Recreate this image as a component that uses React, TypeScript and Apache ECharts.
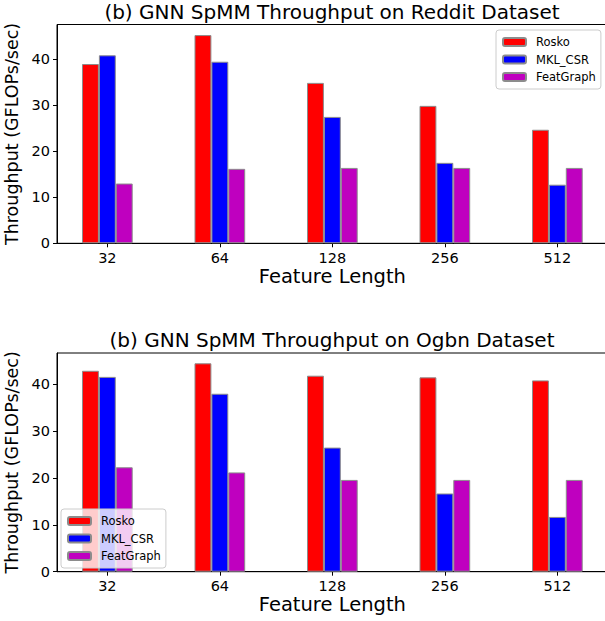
import React, { useEffect, useRef } from "react";
import * as echarts from "echarts";

const categories = ["32", "64", "128", "256", "512"];
const seriesNames = ["Rosko", "MKL_CSR", "FeatGraph"];
const seriesColors = ["#ff0000", "#0000ff", "#bf00bf"];

const redditRosko = [39.0, 45.3, 34.9, 29.9, 24.7];
const redditMkl = [40.9, 39.5, 27.5, 17.5, 12.75];
const redditFeat = [13.0, 16.2, 16.4, 16.4, 16.4];

const ogbnRosko = [42.9, 44.5, 41.85, 41.5, 40.85];
const ogbnMkl = [41.6, 38.0, 26.5, 16.7, 11.7];
const ogbnFeat = [22.3, 21.2, 19.6, 19.6, 19.6];

const yTicks = [0, 10, 20, 30, 40];
const titles = [
  "(b) GNN SpMM Throughput on Reddit Dataset",
  "(b) GNN SpMM Throughput on Ogbn Dataset",
];
const yMax = [47.6, 46.7];

const FONT = "DejaVu Sans";

export default function App() {
  const ref = useRef<HTMLDivElement>(null);
  useEffect(() => {
    if (!ref.current) return;
    const chart = echarts.init(ref.current, null, { renderer: "svg" });
    const xIdx = categories.map((_, i) => i);
    const grids = [
      { left: 57, top: 24.5, width: 550.7, height: 218.8 },
      { left: 57, top: 353, width: 550.7, height: 218.7 },
    ];
    const makeX = (g: number) => ({
      type: "value",
      gridIndex: g,
      min: -0.4475,
      max: 4.4475,
      splitLine: { show: false },
      axisLine: { show: true, onZero: false, lineStyle: { color: "#000", width: 1 } },
      axisTick: { show: true, customValues: xIdx, length: 4, lineStyle: { color: "#000" } },
      axisLabel: {
        customValues: xIdx,
        formatter: (v: number) => categories[Math.round(v)] ?? "",
        color: "#000",
        fontFamily: FONT,
        fontSize: 14.5,
        margin: 7,
      },
      name: "Feature Length",
      nameLocation: "middle",
      nameGap: 23,
      nameTextStyle: { color: "#000", fontFamily: FONT, fontSize: 19.5 },
    });
    const makeY = (g: number) => ({
      type: "value",
      gridIndex: g,
      min: 0,
      max: yMax[g],
      splitLine: { show: false },
      axisLine: { show: true, onZero: false, lineStyle: { color: "#000", width: 1 } },
      axisTick: { show: true, customValues: yTicks, length: 4, lineStyle: { color: "#000" } },
      axisLabel: {
        customValues: yTicks,
        color: "#000",
        fontFamily: FONT,
        fontSize: 14.5,
        margin: 7,
      },
      name: "Throughput (GFLOPs/sec)",
      nameLocation: "middle",
      nameGap: 27,
      nameTextStyle: { color: "#000", fontFamily: FONT, fontSize: 17.5 },
    });
    const dataSets = [
      [redditRosko, redditMkl, redditFeat],
      [ogbnRosko, ogbnMkl, ogbnFeat],
    ];
    const series: any[] = [];
    dataSets.forEach((set, g) => {
      set.forEach((vals, s) => {
        series.push({
          type: "bar",
          name: seriesNames[s],
          xAxisIndex: g,
          yAxisIndex: g,
          barWidth: 16.9,
          barGap: "0%",
          data: vals.map((v, i) => [i, v]),
          itemStyle: {
            color: seriesColors[s],
            borderColor: "#8c8c8c",
            borderWidth: 1,
          },
        });
      });
    });
    const legendBase = {
      orient: "vertical",
      selectedMode: false,
      data: seriesNames,
      itemWidth: 23,
      itemHeight: 8,
      itemGap: 3.5,
      padding: [5, 5, 5, 6],
      backgroundColor: "rgba(255,255,255,0.8)",
      borderColor: "#cccccc",
      borderWidth: 1,
      borderRadius: 3,
      textStyle: {
        color: "#000",
        fontFamily: FONT,
        fontSize: 11.5,
        lineHeight: 14,
        padding: [0, 0, 0, 5],
      },
    };
    chart.setOption({
      animation: false,
      backgroundColor: "#fff",
      grid: grids.map((g) => ({
        ...g,
        show: true,
        borderColor: "#000",
        borderWidth: 1,
        backgroundColor: "transparent",
        containLabel: false,
        outerBoundsMode: "none",
      })),
      xAxis: [makeX(0), makeX(1)],
      yAxis: [makeY(0), makeY(1)],
      legend: [
        { ...legendBase, left: 496, top: 30 },
        { ...legendBase, left: 61, top: 509 },
      ],
      graphic: [
        {
          type: "text",
          x: 332,
          y: 12,
          style: {
            text: titles[0],
            fill: "#000",
            font: `20px '${FONT}'`,
            textAlign: "center",
            textVerticalAlign: "middle",
          },
        },
        {
          type: "text",
          x: 332,
          y: 340,
          style: {
            text: titles[1],
            fill: "#000",
            font: `20px '${FONT}'`,
            textAlign: "center",
            textVerticalAlign: "middle",
          },
        },
      ],
      series,
    });
    return () => chart.dispose();
  }, []);
  return (
    <div
      ref={ref}
      style={{ position: "absolute", left: 0, top: 0, width: 605, height: 621 }}
    />
  );
}
